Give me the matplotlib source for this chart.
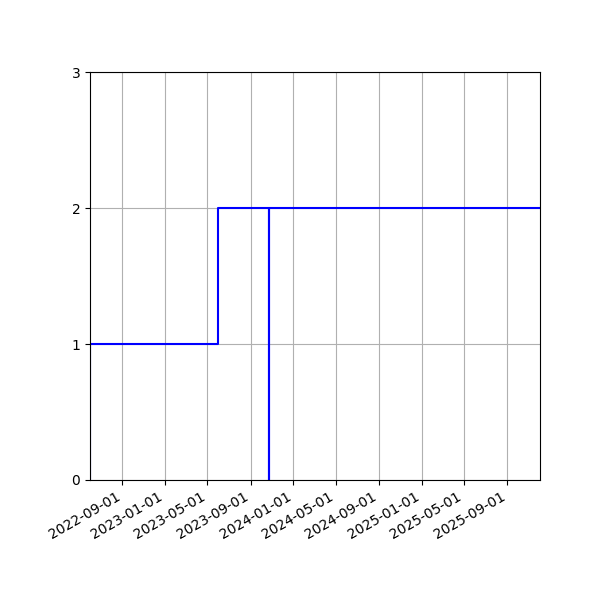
import matplotlib
matplotlib.use("Agg")
import matplotlib.pyplot as plt
import matplotlib.dates as mdates
import numpy as np

# Step data: dates where the count changes, and the count from that date on
dates = np.array(["2022-06-01", "2022-06-01", "2023-06-01", "2023-10-23",
                  "2023-10-24", "2025-12-03"], dtype="datetime64[D]")
counts = [0, 1, 2, 0, 2, 2]

fig, ax = plt.subplots(figsize=(6, 6), dpi=100)
ax.step(dates, counts, where="post", color="blue", linewidth=1.5)

ax.set_xlim(dates[0], dates[-1])
ax.set_ylim(0, 3)
ax.set_yticks([0, 1, 2, 3])

ax.xaxis.set_major_locator(mdates.MonthLocator(bymonth=[1, 5, 9], bymonthday=1))
ax.xaxis.set_major_formatter(mdates.DateFormatter("%Y-%m-%d"))
ax.grid(True)

fig.autofmt_xdate()
fig.subplots_adjust(left=0.15, right=0.9, top=0.88, bottom=0.2)
fig.savefig("out.png", dpi=100)
